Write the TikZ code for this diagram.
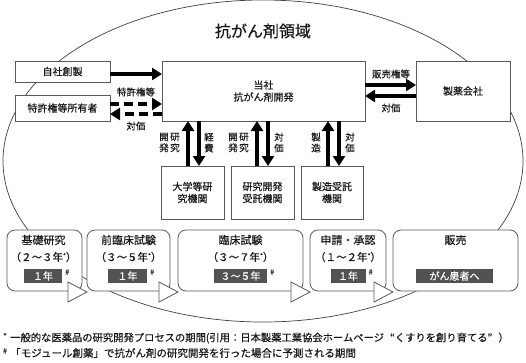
\documentclass[tikz,border=0pt]{standalone}
\usepackage{fontspec}
\setmainfont{Noto Sans CJK JP}[FakeBold=0.45]
\usetikzlibrary{arrows.meta,calc}
\newcommand{\fz}[1]{\fontsize{#1pt}{1.2\dimexpr#1pt\relax}\selectfont}
\newcommand{\myast}{{\fontsize{6pt}{6pt}\selectfont\raisebox{3pt}{*}}}
\begin{document}
\begin{tikzpicture}[x=1pt,y=-1pt,
  box/.style={draw=black!65, line width=0.8pt, fill=white, inner sep=0pt, outer sep=0pt, anchor=north west, align=center, text=black!90},
  stage/.style={box, rounded corners=8pt},
  dark/.style={fill=black!68, text=white, inner sep=0pt, minimum height=14pt, anchor=center, font=\fz{10}},
  big/.style={-{Triangle[length=10pt,width=12pt]}, line width=4pt, black},
  dsh/.style={dash pattern=on 9pt off 5pt},
  lbl/.style={inner sep=0pt, text=black!90, align=center},
  vlbl/.style={lbl, font=\fontsize{9.5pt}{11pt}\selectfont},
  tri/.style={draw=black!65, line width=0.8pt, fill=white, line join=miter},
  sharp/.style={inner sep=0pt, text=black!80, font=\fz{7}},
]
\useasboundingbox (0,0) rectangle (526,362);
\draw[black!75, line width=0.7pt] (263,161) ellipse [x radius=260pt, y radius=161pt];

\node[lbl, font=\fz{16}] (title) at (263,31) {抗がん剤領域};

\node[box, minimum width=95pt, minimum height=21pt, font=\fz{10}] (jisha) at (15,61) {自社創製};
\node[box, minimum width=95pt, minimum height=26pt, font=\fz{10}] (owner) at (15,95) {特許権等所有者};
\node[box, minimum width=203pt, minimum height=60pt, font=\fontsize{10pt}{12pt}\selectfont] (main) at (162,61) {当社\\抗がん剤開発};
\node[box, minimum width=94pt, minimum height=60pt, font=\fz{10}] (pharma) at (416,61) {製薬会社};

\node[box, minimum width=63pt, minimum height=53pt, font=\fontsize{10pt}{12pt}\selectfont] (lb1) at (161,166) {大学等研\\究機関};
\node[box, minimum width=63pt, minimum height=53pt, font=\fontsize{10pt}{12pt}\selectfont] (lb2) at (231,166) {研究開発\\受託機関};
\node[box, minimum width=62pt, minimum height=53pt, font=\fontsize{10pt}{12pt}\selectfont] (lb3) at (301,166) {製造受託\\機関};

% horizontal arrows
\draw[big] (jisha.east |- 0,74) -- (main.west |- 0,74);
\draw[big, dsh] (owner.east |- 0,104) -- (main.west |- 0,104);
\draw[big, dsh] (main.west |- 0,114) -- (owner.east |- 0,114);
\node[lbl, font=\fz{9.5}] (l1) at (136,92) {特許権等};
\node[lbl, font=\fz{9.5}] (l2) at (136,126) {対価};
\draw[big] (main.east |- 0,85) -- (pharma.west |- 0,85);
\draw[big] (pharma.west |- 0,96) -- (main.east |- 0,96);
\node[lbl, font=\fz{9.5}] (l3) at (391,74) {販売権等};
\node[lbl, font=\fz{9.5}] (l4) at (391,108) {対価};

% vertical arrows
\draw[big] (lb1.north -| 188,0) -- (main.south -| 188,0);
\draw[big] (main.south -| 199,0) -- (lb1.north -| 199,0);
\draw[big] (lb2.north -| 257,0) -- (main.south -| 257,0);
\draw[big] (main.south -| 268,0) -- (lb2.north -| 268,0);
\draw[big] (lb3.north -| 328,0) -- (main.south -| 328,0);
\draw[big] (main.south -| 339,0) -- (lb3.north -| 339,0);
\node[vlbl] (v1a) at (175,142.5) {研\\究};
\node[vlbl] (v1b) at (164,142.5) {開\\発};
\node[vlbl] (v1c) at (209,142.5) {経\\費};
\node[vlbl] (v2a) at (244,142.5) {研\\究};
\node[vlbl] (v2b) at (233,142.5) {開\\発};
\node[vlbl] (v2c) at (279,142.5) {対\\価};
\node[vlbl] (v3a) at (316,142.5) {製\\造};
\node[vlbl] (v3c) at (350,142.5) {対\\価};

% stages
\node[stage, minimum width=75pt, minimum height=61pt] (s1) at (7,230) {};
\node[stage, minimum width=83pt, minimum height=61pt] (s2) at (87,230) {};
\node[stage, minimum width=125pt, minimum height=61pt] (s3) at (178,230) {};
\node[stage, minimum width=76pt, minimum height=61pt] (s4) at (310,230) {};
\node[stage, minimum width=125pt, minimum height=61pt] (s5) at (393,230) {};

\node[lbl, font=\fz{11}] (t1) at ($(s1.north)+(-1,10)$) {基礎研究};
\node[lbl, font=\fz{10.5}] (p1) at ($(s1.north)+(-1,27)$) {（２～３年\myast）};
\node[dark, minimum width=38pt] (d1) at ($(s1.north)+(-1.5,46)$) {１年};
\node[sharp] (h1) at ($(d1.east)+(5,-4)$) {\#};

\node[lbl, font=\fz{11}] (t2) at ($(s2.north)+(0,10)$) {前臨床試験};
\node[lbl, font=\fz{10.5}] (p2) at ($(s2.north)+(0,27)$) {（３～５年\myast）};
\node[dark, minimum width=39pt] (d2) at ($(s2.north)+(-1,46)$) {１年};
\node[sharp] (h2) at ($(d2.east)+(5,-4)$) {\#};

\node[lbl, font=\fz{11}] (t3) at ($(s3.north)+(0,10)$) {臨床試験};
\node[lbl, font=\fz{10.5}] (p3) at ($(s3.north)+(0,27)$) {（３～７年\myast）};
\node[dark, minimum width=53pt] (d3) at ($(s3.north)+(0,46)$) {３～５年};
\node[sharp] (h3) at ($(d3.east)+(5,-4)$) {\#};

\node[lbl, font=\fz{11}] (t4) at ($(s4.north)+(0,10)$) {申請・承認};
\node[lbl, font=\fz{10.5}] (p4) at ($(s4.north)+(0,27)$) {（１～２年\myast）};
\node[dark, minimum width=35pt] (d4) at ($(s4.north)+(0,46)$) {１年};
\node[sharp] (h4) at ($(d4.east)+(5,-4)$) {\#};

\node[lbl, font=\fz{11}] (t5) at ($(s5.north)+(0,10)$) {販売};
\node[dark, minimum width=77pt] (d5) at ($(s5.north)+(-1,46)$) {がん患者へ};

% flow triangles
\draw[tri] ($(s2.south west)+(-19,-9)$) -- ($(s2.south west)+(0,1)$) -- ($(s2.south west)+(-19,11)$) -- cycle;
\draw[tri] ($(s3.south west)+(-19,-9)$) -- ($(s3.south west)+(0,1)$) -- ($(s3.south west)+(-19,11)$) -- cycle;
\draw[tri] ($(s4.south west)+(-19,-9)$) -- ($(s4.south west)+(0,1)$) -- ($(s4.south west)+(-19,11)$) -- cycle;
\draw[tri] ($(s5.south west)+(-19,-9)$) -- ($(s5.south west)+(0,1)$) -- ($(s5.south west)+(-19,11)$) -- cycle;

% footnotes
\node[sharp, font=\fz{8}] (m1) at (5,336) {*};
\node[lbl, anchor=west, font=\fz{10.3}] (fn1) at (10,338) {一般的な医薬品の研究開発プロセスの期間(引用：日本製薬工業協会ホームページ\hspace{6pt}“くすりを創り育てる”\hspace{6pt}）};
\node[sharp, font=\fz{7}] (m2) at (5,351) {\#};
\node[lbl, anchor=west, font=\fz{10.5}] (fn2) at (10,353) {「モジュール創薬」で抗がん剤の研究開発を行った場合に予測される期間};
\end{tikzpicture}
\end{document}
